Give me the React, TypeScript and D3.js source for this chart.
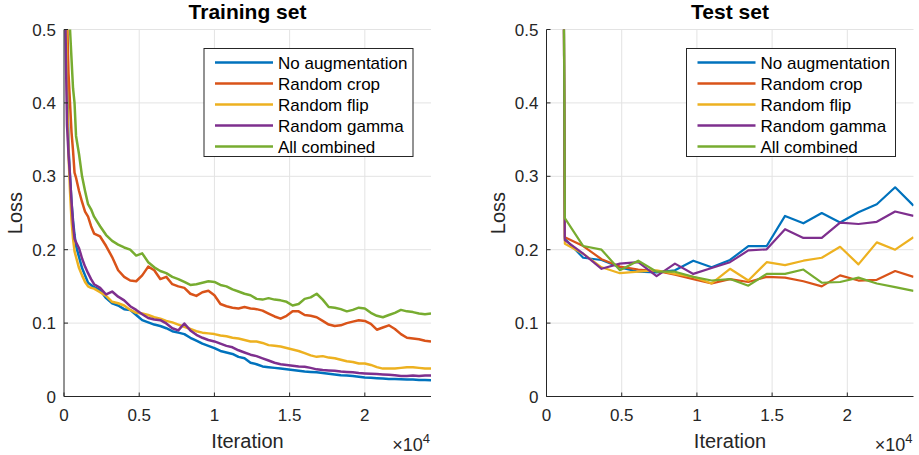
import React from 'react';
import * as d3 from 'd3';

// training iterations (sampled off the plot)
const trainIter = [
  0, 100, 200, 300, 400, 500, 600, 700, 800, 1000, 1200, 1400, 1600, 1800,
  2000, 2400, 2800, 3200, 3600, 4000, 4400, 4800, 5200, 5600, 6000, 6400, 6800, 7200,
  7600, 8000, 8400, 8800, 9200, 9600, 10000, 10400, 10800, 11200, 11600, 12000, 12400,
  12800, 13200, 13600, 14000, 14400, 14800, 15200, 15600, 16000, 16400, 16800, 17200,
  17600, 18000, 18400, 18800, 19200, 19600, 20000, 20400, 20800, 21200, 21600, 22000,
  22400, 22800, 23200, 23600, 24000, 24400,
];

const trainNoAug = [
  1.0, 0.65, 0.45, 0.34, 0.3, 0.265, 0.24, 0.22, 0.205, 0.19, 0.175, 0.165, 0.155, 0.152,
  0.149, 0.145, 0.134, 0.127, 0.124, 0.119, 0.118, 0.111, 0.104, 0.101, 0.098, 0.096, 0.093, 0.089,
  0.087, 0.085, 0.08, 0.076, 0.072, 0.069, 0.066, 0.062, 0.06, 0.058, 0.054, 0.052, 0.046,
  0.044, 0.041, 0.04, 0.039, 0.038, 0.037, 0.036, 0.035, 0.034, 0.0335, 0.033, 0.032,
  0.031, 0.03, 0.029, 0.0285, 0.028, 0.027, 0.026, 0.0255, 0.025, 0.0245, 0.024, 0.024,
  0.0235, 0.023, 0.023, 0.0225, 0.0225, 0.022,
];

const trainCrop = [
  1.0, 0.75, 0.52, 0.44, 0.4, 0.36, 0.335, 0.305, 0.298, 0.28, 0.265, 0.252, 0.245, 0.232,
  0.222, 0.218, 0.205, 0.19, 0.172, 0.163, 0.158, 0.157, 0.165, 0.177, 0.172, 0.16, 0.163, 0.153,
  0.15, 0.148, 0.14, 0.137, 0.142, 0.144, 0.138, 0.126, 0.123, 0.121, 0.12, 0.122, 0.12,
  0.119, 0.117, 0.113, 0.109, 0.106, 0.11, 0.116, 0.116, 0.111, 0.11, 0.108, 0.103,
  0.098, 0.096, 0.097, 0.1, 0.102, 0.104, 0.103, 0.099, 0.091, 0.094, 0.097, 0.092,
  0.085, 0.08, 0.079, 0.078, 0.076, 0.075,
];

const trainFlip = [
  1.0, 0.6, 0.42, 0.33, 0.28, 0.24, 0.215, 0.198, 0.19, 0.175, 0.165, 0.156, 0.15, 0.148,
  0.147, 0.142, 0.137, 0.129, 0.127, 0.124, 0.118, 0.114, 0.113, 0.111, 0.108, 0.106, 0.103, 0.101,
  0.098, 0.095, 0.092, 0.089, 0.087, 0.086, 0.085, 0.083, 0.082, 0.08, 0.079, 0.077, 0.075,
  0.075, 0.073, 0.07, 0.069, 0.068, 0.066, 0.064, 0.062, 0.059, 0.056, 0.054, 0.055,
  0.053, 0.052, 0.05, 0.048, 0.047, 0.045, 0.045, 0.043, 0.04, 0.038, 0.038, 0.038,
  0.039, 0.04, 0.04, 0.039, 0.038, 0.038,
];

const trainGamma = [
  1.0, 0.5, 0.37, 0.33, 0.3, 0.265, 0.235, 0.215, 0.21, 0.202, 0.188, 0.177, 0.168, 0.16,
  0.153, 0.148, 0.139, 0.143, 0.136, 0.131, 0.123, 0.118, 0.112, 0.107, 0.105, 0.104, 0.0995, 0.093,
  0.09, 0.0995, 0.09, 0.084, 0.08, 0.077, 0.075, 0.072, 0.069, 0.067, 0.063, 0.06, 0.057,
  0.055, 0.052, 0.049, 0.046, 0.044, 0.043, 0.042, 0.041, 0.0405, 0.039, 0.037, 0.036,
  0.0355, 0.035, 0.034, 0.0335, 0.033, 0.032, 0.0315, 0.031, 0.0305, 0.03, 0.0295, 0.029,
  0.028, 0.028, 0.0285, 0.028, 0.0285, 0.0285,
];

const trainAll = [
  1.2, 0.9, 0.7, 0.58, 0.5, 0.46, 0.42, 0.4, 0.355, 0.33, 0.3, 0.28, 0.262, 0.255,
  0.245, 0.232, 0.22, 0.212, 0.207, 0.203, 0.2, 0.192, 0.195, 0.183, 0.176, 0.171, 0.168, 0.163,
  0.16, 0.156, 0.152, 0.153, 0.155, 0.157, 0.156, 0.152, 0.15, 0.146, 0.143, 0.14, 0.138,
  0.133, 0.132, 0.134, 0.132, 0.131, 0.129, 0.124, 0.126, 0.133, 0.135, 0.14, 0.132,
  0.122, 0.121, 0.119, 0.116, 0.118, 0.121, 0.12, 0.114, 0.11, 0.108, 0.111, 0.114,
  0.118, 0.116, 0.115, 0.113, 0.112, 0.113,
];

// test evaluations every 1220 iterations
const testIter = [
  0, 1220, 2440, 3660, 4880, 6100, 7320, 8540, 9760, 10980, 12200,
  13420, 14640, 15860, 17080, 18300, 19520, 20740, 21960, 23180, 24400,
];

const testNoAug = [
  6, 0.215, 0.189, 0.186, 0.176, 0.17, 0.169, 0.172, 0.185, 0.176, 0.186,
  0.205, 0.205, 0.246, 0.236, 0.25, 0.237, 0.251, 0.262, 0.285, 0.26,
];
const testCrop = [
  6, 0.217, 0.205, 0.187, 0.177, 0.173, 0.171, 0.166, 0.16, 0.154, 0.16,
  0.156, 0.163, 0.162, 0.157, 0.15, 0.165, 0.158, 0.159, 0.171, 0.163,
];
const testFlip = [
  6, 0.208, 0.1945, 0.176, 0.168, 0.17, 0.172, 0.167, 0.163, 0.154, 0.174,
  0.158, 0.183, 0.179, 0.185, 0.189, 0.204, 0.18, 0.21, 0.2, 0.217,
];
const testGamma = [
  6, 0.213, 0.1945, 0.174, 0.181, 0.183, 0.164, 0.181, 0.167, 0.175, 0.183,
  0.199, 0.2005, 0.228, 0.216, 0.216, 0.237, 0.235, 0.238, 0.252, 0.246,
];
const testAll = [
  6, 0.243, 0.205, 0.2, 0.172, 0.185, 0.17, 0.17, 0.163, 0.158, 0.16,
  0.151, 0.167, 0.167, 0.173, 0.155, 0.156, 0.162, 0.154, 0.149, 0.144,
];

const seriesNames = ['No augmentation', 'Random crop', 'Random flip', 'Random gamma', 'All combined'];
const seriesColors = ['#0072BD', '#D95319', '#EDB120', '#7E2F8E', '#77AC30'];
const xTicks = [0, 5000, 10000, 15000, 20000];
const xTickLabels = ['0', '0.5', '1', '1.5', '2'];
const yTicks = [0, 0.1, 0.2, 0.3, 0.4, 0.5];

const W = 919;
const H = 455;
const font = '"Liberation Sans", Arial, Helvetica, sans-serif';
const ink = '#262626';

type PanelProps = {
  id: string;
  left: number;
  title: string;
  iter: number[];
  series: number[][];
  lineWidth: number;
};

const Panel = ({ id, left, title, iter, series, lineWidth }: PanelProps) => {
  const top = 29.5;
  const bottom = 396.5;
  const width = 367;
  const x = d3.scaleLinear().domain([0, 24400]).range([left, left + width]);
  const y = d3.scaleLinear().domain([0, 0.5]).range([bottom, top]);
  const line = d3
    .line<number>()
    .x((_, i) => x(iter[i]))
    .y((d) => y(d));

  const legX = left + 140;
  const legY = 48.5;

  return (
    <g>
      <defs>
        <clipPath id={id}>
          <rect x={left} y={top} width={width} height={bottom - top} />
        </clipPath>
      </defs>
      {/* grid */}
      {xTicks.slice(1).map((t) => (
        <line key={'gx' + t} x1={x(t)} x2={x(t)} y1={top} y2={bottom} stroke="#e3e3e3" strokeWidth={1} />
      ))}
      {yTicks.slice(1).map((t) => (
        <line key={'gy' + t} x1={left} x2={left + width} y1={y(t)} y2={y(t)} stroke="#e3e3e3" strokeWidth={1} />
      ))}
      {/* lines */}
      <g clipPath={`url(#${id})`}>
        {series.map((s, i) => (
          <path
            key={i}
            d={line(s) || ''}
            fill="none"
            stroke={seriesColors[i]}
            strokeWidth={lineWidth}
            strokeLinejoin="round"
          />
        ))}
      </g>
      {/* axes */}
      <line x1={left} x2={left} y1={top} y2={bottom} stroke={ink} strokeWidth={1} />
      <line x1={left} x2={left + width} y1={bottom} y2={bottom} stroke={ink} strokeWidth={1} />
      {xTicks.map((t, i) => (
        <g key={'xt' + t}>
          <line x1={x(t)} x2={x(t)} y1={bottom} y2={bottom - 4} stroke={ink} />
          <text x={x(t)} y={421} textAnchor="middle" fontSize={17} fill={ink} fontFamily={font}>
            {xTickLabels[i]}
          </text>
        </g>
      ))}
      {yTicks.map((t) => (
        <g key={'yt' + t}>
          <line x1={left} x2={left + 4} y1={y(t)} y2={y(t)} stroke={ink} />
          <text x={left - 8} y={y(t) + 6} textAnchor="end" fontSize={17} fill={ink} fontFamily={font}>
            {t === 0 ? '0' : t.toFixed(1)}
          </text>
        </g>
      ))}
      {/* title and labels */}
      <text x={left + width / 2} y={19} textAnchor="middle" fontSize={21} fontWeight="bold" fill="#000" fontFamily={font}>
        {title}
      </text>
      <text x={left + width / 2} y={448} textAnchor="middle" fontSize={20} fill={ink} fontFamily={font}>
        Iteration
      </text>
      <text
        transform={`translate(${left - 42},${213}) rotate(-90)`}
        textAnchor="middle"
        fontSize={20}
        fill={ink}
        fontFamily={font}
      >
        Loss
      </text>
      <text x={left + width - 1} y={451} textAnchor="end" fontSize={18} fill={ink} fontFamily={font}>
        ×10<tspan fontSize={13} dy={-8}>4</tspan>
      </text>
      {/* legend */}
      <rect x={legX} y={legY} width={209} height={108} fill="#fff" stroke={ink} strokeWidth={1} />
      {seriesNames.map((n, i) => (
        <g key={n}>
          <line
            x1={legX + 11}
            x2={legX + 69}
            y1={legY + 14 + i * 21}
            y2={legY + 14 + i * 21}
            stroke={seriesColors[i]}
            strokeWidth={2.5}
          />
          <text x={legX + 74} y={legY + 20 + i * 21} fontSize={17} fill="#000" fontFamily={font}>
            {n}
          </text>
        </g>
      ))}
    </g>
  );
};

export default function App() {
  return (
    <div style={{ position: 'absolute', left: 0, top: 0 }}>
      <svg width={W} height={H} style={{ display: 'block', background: '#fff' }}>
        <Panel
          id="clipTrain"
          left={64}
          title="Training set"
          iter={trainIter}
          series={[trainNoAug, trainCrop, trainFlip, trainGamma, trainAll]}
          lineWidth={2.5}
        />
        <Panel
          id="clipTest"
          left={546.5}
          title="Test set"
          iter={testIter}
          series={[testNoAug, testCrop, testFlip, testGamma, testAll]}
          lineWidth={2.2}
        />
      </svg>
    </div>
  );
}
